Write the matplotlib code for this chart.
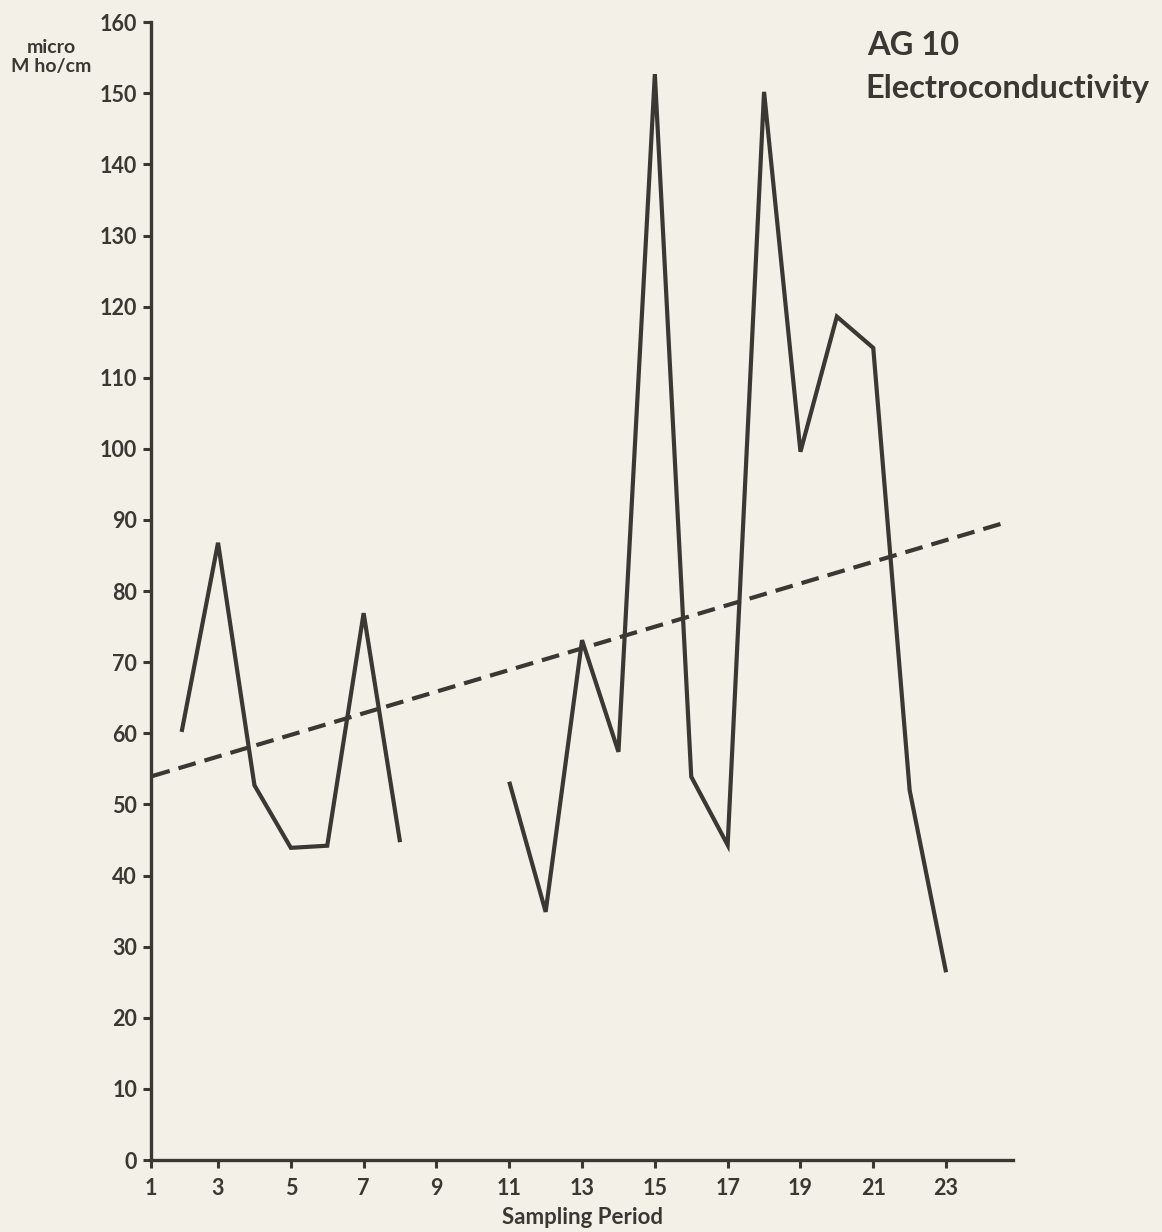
import numpy as np
import matplotlib
matplotlib.use("Agg")
import matplotlib.pyplot as plt

# ---- data ----
periods = [2, 3, 4, 5, 6, 7, 8, 9, 10, 11, 12, 13, 14, 15, 16, 17, 18, 19, 20, 21, 22, 23]
conductivity = [60.2, 86.8, 52.7, 43.9, 44.2, 76.9, 44.7, np.nan, np.nan,
                53.2, 34.9, 73.1, 57.4, 152.7, 53.9, 44.3, 150.2, 99.6, 118.6, 114.2, 52.0, 26.4]
trend_x = [1.2, 24.6]
trend_y = [54.0, 89.6]
xtick_labels = ["1", "3", "5", "7", "9", "11", "13", "15", "17", "19", "21", "23"]
ytick_values = list(range(0, 161, 10))

ink = "#3b3733"
bg = "#f2f0e7"

plt.rcParams['font.family'] = ['Lato', 'DejaVu Sans']

fig = plt.figure(figsize=(11.62, 12.32), dpi=100, facecolor=bg)
ax = fig.add_axes([0.1300, 0.0584, 0.7418, 0.9236])
ax.set_facecolor(bg)

ax.plot(periods, conductivity, color=ink, lw=3.0, solid_joinstyle='miter', solid_capstyle='butt')
ax.plot(trend_x, trend_y, color=ink, lw=3.0, dashes=(4.3, 2.2))

ax.set_xlim(1.16, 24.84)
ax.set_ylim(0, 160)

xt = [1.16] + list(range(3, 24, 2))
ax.set_xticks(xt)
ax.set_xticklabels(xtick_labels)
ax.set_yticks(ytick_values)
ax.set_yticklabels([str(v) for v in ytick_values])

for s in ['top', 'right']:
    ax.spines[s].set_visible(False)
for s in ['left', 'bottom']:
    ax.spines[s].set_color(ink)
    ax.spines[s].set_linewidth(2.4)

ax.tick_params(axis='both', colors=ink, width=2.2, length=6, labelsize=15.5)
ax.tick_params(axis='x', pad=7)
ax.tick_params(axis='y', pad=4)
for lab in ax.get_xticklabels() + ax.get_yticklabels():
    lab.set_fontweight('bold')
    lab.set_color(ink)

ax.set_xlabel("Sampling Period", fontsize=16, fontweight='bold', color=ink, labelpad=6)

fig.text(0.044, 0.954, "micro\nM ho/cm", fontsize=14, fontweight='bold', color=ink,
         ha='center', va='center', linespacing=1.15)
fig.text(0.746, 0.963, "AG 10", fontsize=23.5, fontweight='bold', color=ink, ha='left', va='center')
fig.text(0.745, 0.928, "Electroconductivity", fontsize=23.5, fontweight='bold', color=ink,
         ha='left', va='center')

fig.savefig("out.png", dpi=100, facecolor=bg)
